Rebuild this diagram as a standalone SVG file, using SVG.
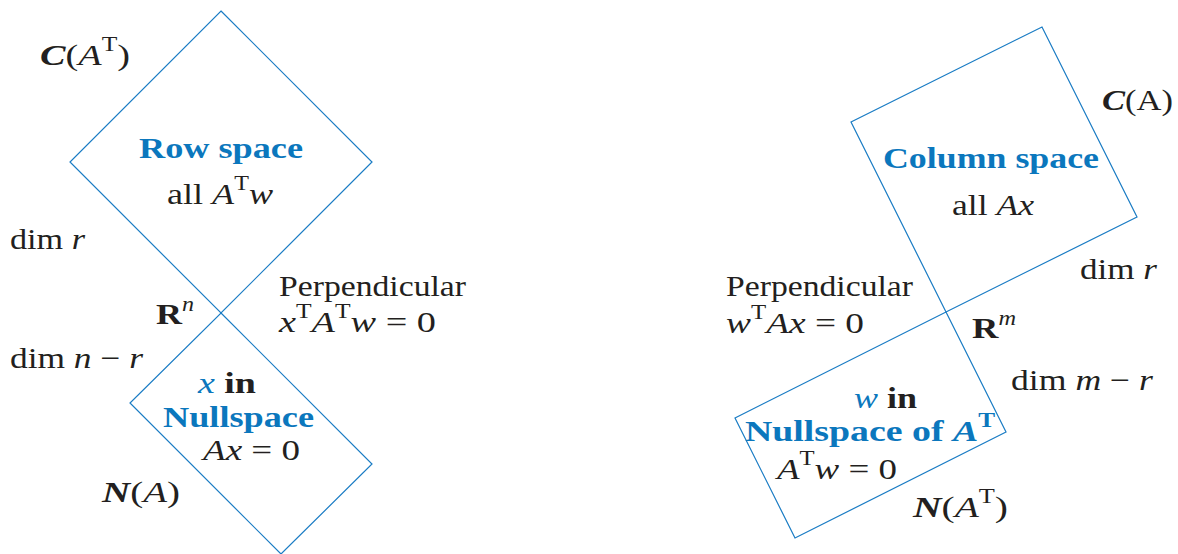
<svg xmlns="http://www.w3.org/2000/svg" width="1178" height="554" viewBox="0 0 1178 554">
<style>
.shape{fill:none;stroke:#1a7cc4;stroke-width:1.2}
text{font-family:"Liberation Serif","Times New Roman",serif;font-size:30px;fill:#231f20}
.b{font-weight:bold}
.i{font-style:italic}
.bi{font-weight:bold;font-style:italic}
.blue{fill:#0b77bd}
.sup{font-size:20px}
</style>
<rect width="1178" height="554" fill="#ffffff"/>
<g id="connectors">
<polygon id="row-space-shape" class="shape" points="221,11 372,162 221,313 70,162"/>
<polygon id="nullspace-shape" class="shape" points="221,313 372,464 281,554 130,403"/>
<polygon id="column-space-shape" class="shape" points="946,312 851,122 1042,27 1137,217"/>
<polygon id="left-nullspace-shape" class="shape" points="946,312 1006,432 795,538 735,418"/>
</g>
<g id="row-space">
<text x="40" y="65" textLength="90" lengthAdjust="spacingAndGlyphs"><tspan class="bi">C</tspan>(<tspan class="i">A</tspan><tspan class="sup" dy="-14">T</tspan><tspan dy="14">)</tspan></text>
<text class="b blue" x="139" y="158" textLength="164" lengthAdjust="spacingAndGlyphs">Row space</text>
<text x="167" y="204" textLength="106" lengthAdjust="spacingAndGlyphs">all <tspan class="i">A</tspan><tspan class="sup" dy="-14">T</tspan><tspan class="i" dy="14">w</tspan></text>
<text x="10" y="249" textLength="75" lengthAdjust="spacingAndGlyphs">dim <tspan class="i">r</tspan></text>
</g>
<g id="rn">
<text x="156" y="324" textLength="38" lengthAdjust="spacingAndGlyphs"><tspan class="b">R</tspan><tspan class="sup i" dy="-13">n</tspan></text>
<text x="279" y="296" textLength="187" lengthAdjust="spacingAndGlyphs">Perpendicular</text>
<text x="279" y="332" textLength="157" lengthAdjust="spacingAndGlyphs"><tspan class="i">x</tspan><tspan class="sup" dy="-14">T</tspan><tspan class="i" dy="14">A</tspan><tspan class="sup" dy="-14">T</tspan><tspan class="i" dy="14">w</tspan> = 0</text>
</g>
<g id="nullspace">
<text x="10" y="368" textLength="133" lengthAdjust="spacingAndGlyphs">dim <tspan class="i">n</tspan> − <tspan class="i">r</tspan></text>
<text x="198" y="393" textLength="58" lengthAdjust="spacingAndGlyphs"><tspan class="i blue">x</tspan> <tspan class="b">in</tspan></text>
<text class="b blue" x="163" y="427" textLength="151" lengthAdjust="spacingAndGlyphs">Nullspace</text>
<text x="203" y="460" textLength="97" lengthAdjust="spacingAndGlyphs"><tspan class="i">Ax</tspan> = 0</text>
<text x="102" y="502" textLength="78" lengthAdjust="spacingAndGlyphs"><tspan class="bi">N</tspan>(<tspan class="i">A</tspan>)</text>
</g>
<g id="column-space">
<text x="1102" y="110" textLength="71" lengthAdjust="spacingAndGlyphs"><tspan class="bi">C</tspan>(A)</text>
<text class="b blue" x="883" y="168" textLength="216" lengthAdjust="spacingAndGlyphs">Column space</text>
<text x="952" y="215" textLength="82" lengthAdjust="spacingAndGlyphs">all <tspan class="i">Ax</tspan></text>
<text x="1080" y="279" textLength="77" lengthAdjust="spacingAndGlyphs">dim <tspan class="i">r</tspan></text>
</g>
<g id="rm">
<text x="726" y="296" textLength="187" lengthAdjust="spacingAndGlyphs">Perpendicular</text>
<text x="726" y="333" textLength="138" lengthAdjust="spacingAndGlyphs"><tspan class="i">w</tspan><tspan class="sup" dy="-14">T</tspan><tspan class="i" dy="14">Ax</tspan> = 0</text>
<text x="972" y="338" textLength="44" lengthAdjust="spacingAndGlyphs"><tspan class="b">R</tspan><tspan class="sup i" dy="-13">m</tspan></text>
</g>
<g id="left-nullspace">
<text x="1011" y="390" textLength="142" lengthAdjust="spacingAndGlyphs">dim <tspan class="i">m</tspan> − <tspan class="i">r</tspan></text>
<text x="854" y="408" textLength="63" lengthAdjust="spacingAndGlyphs"><tspan class="i blue">w</tspan> <tspan class="b">in</tspan></text>
<text class="b blue" x="745" y="441" textLength="250" lengthAdjust="spacingAndGlyphs">Nullspace of <tspan class="bi">A</tspan><tspan class="sup" dy="-14">T</tspan></text>
<text x="777" y="479" textLength="120" lengthAdjust="spacingAndGlyphs"><tspan class="i">A</tspan><tspan class="sup" dy="-14">T</tspan><tspan class="i" dy="14">w</tspan> = 0</text>
<text x="913" y="517" textLength="95" lengthAdjust="spacingAndGlyphs"><tspan class="bi">N</tspan>(<tspan class="i">A</tspan><tspan class="sup" dy="-14">T</tspan><tspan dy="14">)</tspan></text>
</g>
</svg>
